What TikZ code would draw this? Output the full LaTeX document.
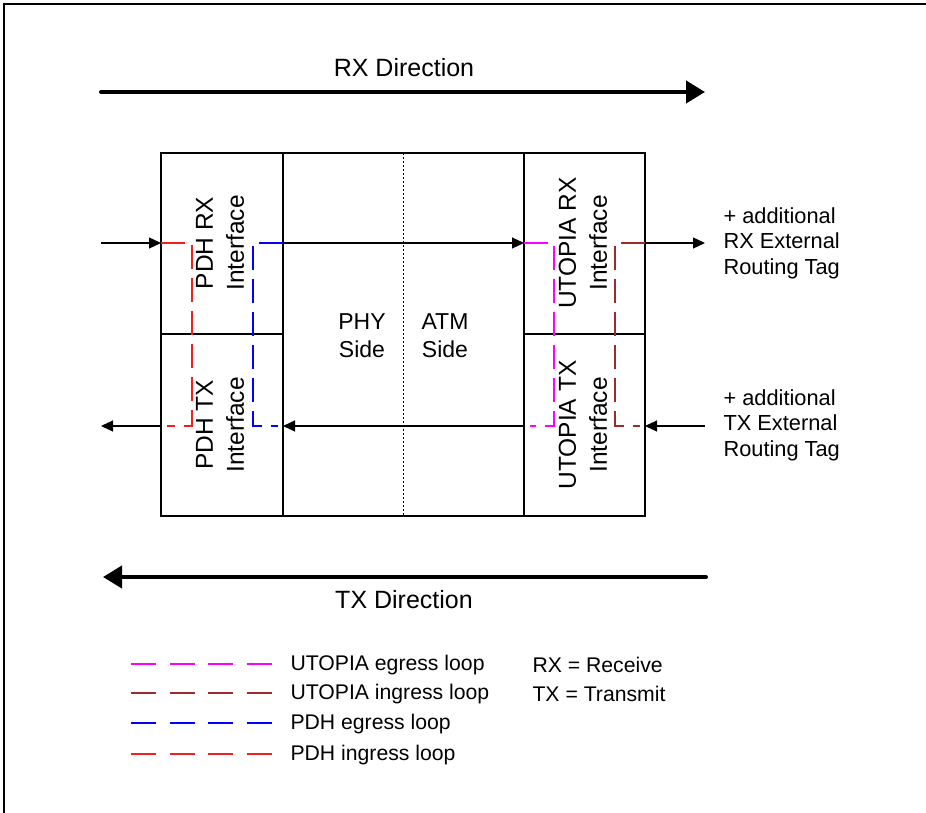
\documentclass[tikz,border=0pt]{standalone}
\usepackage{fontspec}
\setmainfont{Liberation Sans}
\usetikzlibrary{arrows.meta}
\definecolor{utegress}{RGB}{255,0,255}
\definecolor{utingress}{RGB}{153,45,45}
\definecolor{pdhegress}{RGB}{0,0,255}
\definecolor{pdhingress}{RGB}{245,30,30}
\tikzset{
  frame/.style={line width=1.4pt},
  cell/.style={line width=1.2pt},
  flow/.style={line width=1.2pt,-{Triangle[length=12pt,width=11pt]}},
  bigflow/.style={line width=4pt,line cap=round,-{Triangle[length=19pt,width=22pt]}},
  loopline/.style={line width=1.5pt,dash pattern=on 24pt off 9pt},
  legline/.style={line width=1.5pt,dash pattern=on 25pt off 13.5pt},
  bigtxt/.style={font=\fontsize{25}{30}\selectfont},
  celltxt/.style={font=\fontsize{24.5}{31}\selectfont,align=center,rotate=90},
  sidetxt/.style={font=\fontsize{23}{28}\selectfont,align=center},
  tagtxt/.style={font=\fontsize{21.8}{25.5}\selectfont,align=left,anchor=west},
  legtxt/.style={font=\fontsize{21.2}{25}\selectfont,anchor=west}
}
\begin{document}
\begin{tikzpicture}[x=1pt,y=-1pt]
\useasboundingbox (0,0) rectangle (926,813);
% page frame (top and left edges)
\draw[frame] (4,813) -- (4,4) -- (926,4);

% direction arrows
\node[bigtxt] (rxdir) at (404,68) {RX Direction};
\coordinate (rxs) at (101,92); \coordinate (rxe) at (705,92);
\draw[bigflow] (rxs) -- (rxe);
\node[bigtxt] (txdir) at (404,600) {TX Direction};
\coordinate (txs) at (706,577); \coordinate (txe) at (103,577);
\draw[bigflow] (txs) -- (txe);

% block outline
\coordinate (tl) at (161,153); \coordinate (br) at (645,516);
\draw[cell] (tl) rectangle (br);
\draw[cell] (283,153) -- (283,516);
\draw[cell] (524,153) -- (524,516);
\draw[line width=0.8pt,dash pattern=on 2pt off 2pt] (403,153) -- (403,516);
\draw[cell] (161,334) -- (283,334);
\draw[cell] (524,334) -- (645,334);

% cell labels
\node[celltxt] (pdhrx) at (220,243) {PDH RX\\Interface};
\node[celltxt] (pdhtx) at (220,425) {PDH TX\\Interface};
\node[celltxt] (utrx) at (583,243) {UTOPIA RX\\Interface};
\node[celltxt] (uttx) at (583,425) {UTOPIA TX\\Interface};
\node[sidetxt] (phy) at (362,336) {PHY\\Side};
\node[sidetxt] (atm) at (445,336) {ATM\\Side};

% ports
\coordinate (rin) at (101,243);  \coordinate (rpl) at (161,243);
\coordinate (rpr) at (283,243);  \coordinate (rul) at (524,243);
\coordinate (rur) at (645,243);  \coordinate (rout) at (705,243);
\coordinate (tin) at (705,426);  \coordinate (tur) at (645,426);
\coordinate (tul) at (524,426);  \coordinate (tpr) at (283,426);
\coordinate (tpl) at (161,426);  \coordinate (tout) at (101,426);

% receive path
\draw[flow] (rin) -- (rpl);
\draw[flow] (rpr) -- (rul);
\draw[flow] (rur) -- (rout);
% transmit path
\draw[flow] (tin) -- (tur);
\draw[flow] (tul) -- (tpr);
\draw[flow] (tpl) -- (tout);

% loopbacks
\draw[loopline,pdhingress] (rpl) -- (192,243) -- (192,426) -- (167,426);
\draw[loopline,pdhegress] (rpr) -- (253,243) -- (253,426) -- (278,426);
\draw[loopline,utegress] (rul) -- (554,243) -- (554,426) -- (530,426);
\draw[loopline,utingress] (rur) -- (615,243) -- (615,426) -- (640,426);

% external tags
\node[tagtxt] (rxtag) at (720,243) {+ additional\\RX External\\Routing Tag};
\node[tagtxt] (txtag) at (720,425) {+ additional\\TX External\\Routing Tag};

% legend
\draw[legline,utegress] (131,664) -- (272,664);
\draw[legline,utingress] (131,693) -- (272,693);
\draw[legline,pdhegress] (131,723) -- (272,723);
\draw[legline,pdhingress] (131,754) -- (272,754);
\node[legtxt] (l1) at (287,665) {UTOPIA egress loop};
\node[legtxt] (l2) at (287,694) {UTOPIA ingress loop};
\node[legtxt] (l3) at (287,724) {PDH egress loop};
\node[legtxt] (l4) at (287,755) {PDH ingress loop};
\node[legtxt] (k1) at (529,665) {RX = Receive};
\node[legtxt] (k2) at (529,694) {TX = Transmit};
\end{tikzpicture}
\end{document}
